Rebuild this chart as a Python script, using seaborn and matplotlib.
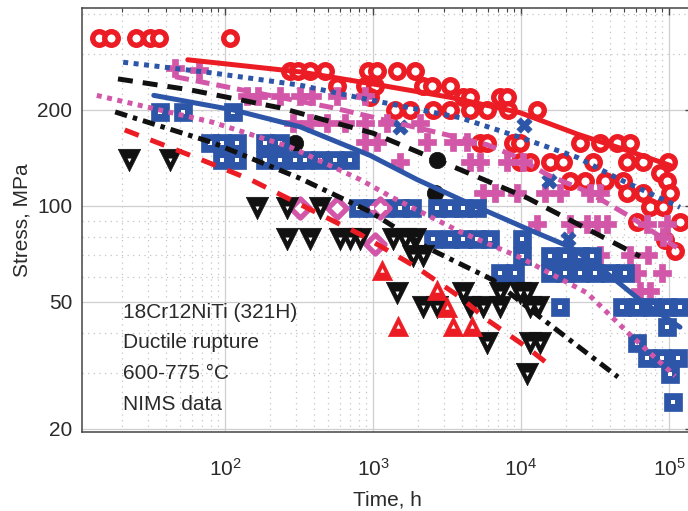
import numpy as np
import pandas as pd
import matplotlib
matplotlib.use("Agg")
import matplotlib.pyplot as plt
import matplotlib.ticker as mticker
import seaborn as sns

# ---------------- data (time in h, stress in MPa) ----------------
red_circle_t = [14, 17, 25, 31, 36, 108,
                275, 310, 375, 475, 925, 1065, 1450, 1920,
                570, 880, 1030, 2180, 2500, 3310,
                955, 4060, 4520, 7210, 8030,
                1410, 1780, 2540, 3310, 4520, 5890, 8170, 12800,
                5280, 5890, 8830, 9840, 25000, 34200, 44600, 54500,
                9840, 11500, 15700, 19200, 30600, 52000, 66700, 98400,
                86900,
                21400, 27000, 37000, 48900, 96900,
                52000, 66700, 101500,
                74400, 91000,
                60800, 118600,
                94000, 110000]
red_circle_s = [335, 335, 335, 335, 335, 335,
                265, 265, 265, 265, 265, 265, 265, 265,
                237, 237, 237, 237, 237, 237,
                220, 220, 220, 220, 220,
                200, 200, 200, 200, 200, 200, 200, 200,
                158, 158, 158, 158, 158, 158, 158, 158,
                137, 137, 137, 137, 137, 137, 137, 137,
                127,
                120, 120, 120, 120, 120,
                110, 110, 110,
                99, 99,
                89, 89,
                78, 72]
red_line_t = [56, 321, 1115, 3310, 9840, 23900, 50400, 101500]
red_line_s = [287, 263, 239, 219, 196, 168, 150, 134]

blue_dot_line_t = [20.5, 82, 321, 817, 1780, 3870, 9840, 23900, 46600, 118600]
blue_dot_line_s = [282, 261, 239, 218, 203, 189, 164, 142, 121, 99]
blue_x_t = [1520, 10500, 15400, 20800]
blue_x_s = [177, 179, 120, 78.5]

pink_dash_line_t = [46, 164, 537, 2840, 5890, 8830, 15200, 28400, 54500, 113000]
pink_dash_line_s = [254, 226, 203, 169, 155.5, 144, 125, 110.5, 92.6, 74]
pink_plus_t = [46, 67,
               141, 167, 235, 321, 387, 571, 883,
               288, 375, 489, 647, 883, 1245, 2080,
               883, 1065, 2320, 3470, 4320,
               1520, 4520, 5280, 8040, 10300,
               5540, 6670, 9400, 14500, 18300, 29300, 34200,
               12800, 21400, 27900, 32700, 38100, 71000, 96900,
               91000,
               34200, 54500, 72100,
               60800, 89700,
               63700, 74400]
pink_plus_s = [271, 267,
               221, 221, 221, 221, 221, 221, 221,
               182, 182, 182, 182, 182, 182, 182,
               159, 159, 159, 159, 159,
               137, 137, 137, 137, 137,
               110, 110, 110, 110, 110, 110, 110,
               88, 88, 88, 88, 88, 88, 88,
               80,
               70, 70, 70,
               61.5, 61.5,
               54, 54]

black_dash_line_t = [18.9, 58, 235, 1000, 3310, 11000, 25000, 63700]
black_dash_line_s = [250, 231, 203, 169, 134, 106, 87, 69.5]
black_dot_t = [297, 2700, 2620]
black_dot_s = [158, 139, 110]

pink_dot_line_t = [13.6, 82, 275, 817, 1365, 3870, 9840, 27900, 54500, 110000]
pink_dot_line_s = [222, 183, 153, 121, 106, 83, 69, 53.4, 39.5, 29.3]
pink_diamond_t = [321, 571, 1115, 1032]
pink_diamond_s = [98.6, 98.6, 98.6, 76]

blue_line_t = [33, 113, 321, 955, 1980, 4520, 11500, 21400, 34200, 63700, 118600]
blue_line_s = [222, 200, 177, 144, 121, 101.5, 84, 74.4, 64.1, 50.7, 41.7]
blue_square_t = [36.4, 52, 113,
                 79, 95, 120, 186, 235,
                 95, 120, 186, 235, 297, 347, 438, 553, 699,
                 792, 984, 1205, 1522, 1837, 2705, 3313, 4056, 5046,
                 2541, 3313, 4056, 5046, 6173, 10160,
                 10160, 15700, 19820, 25030, 30200,
                 7212, 9100, 15700, 19820, 25030, 31620, 39920, 50420,
                 18340, 48080, 60800, 76760, 96900, 118600,
                 96900, 60800, 71000, 89700, 115000, 101500, 106400]
blue_square_s = [197, 197, 197,
                 158, 158, 158, 158, 158,
                 139, 139, 139, 139, 139, 139, 139, 139, 139,
                 98.6, 98.6, 98.6, 98.6, 98.6, 98.6, 98.6, 98.6, 98.6,
                 78.5, 78.5, 78.5, 78.5, 78.5, 78.5,
                 69.5, 69.5, 69.5, 69.5, 69.5,
                 61.5, 61.5, 61.5, 61.5, 61.5, 61.5, 61.5, 61.5,
                 48.3, 48.3, 48.3, 48.3, 48.3, 48.3,
                 41.7, 37.3, 33.4, 33.4, 33.4, 29.7, 24.3]

black_dashdot_line_t = [18.1, 82, 321, 955, 2320, 6470, 13400, 45200]
black_dashdot_line_s = [197, 158, 122, 95.9, 74, 58.6, 44.9, 29.1]
black_tri_t = [22.4, 42.5,
               164, 262, 438,
               262, 375, 598, 699, 817, 1365, 1644, 1922,
               1862, 2178,
               1452, 4056, 7212, 9843, 10990,
               2178, 2705, 4522, 5536, 7212, 11500, 13030,
               5888, 11500, 13430,
               10990]
black_tri_s = [139, 139,
               98.6, 98.6, 98.6,
               78.5, 78.5, 78.5, 78.5, 78.5, 78.5, 78.5, 78.5,
               69.5, 69.5,
               53.5, 53.5, 53.5, 53.5, 53.5,
               48.3, 48.3, 48.3, 48.3, 48.3, 48.3, 48.3,
               37.3, 37.3, 37.3,
               29.7]

red_dash_line_t = [21, 63, 148, 358, 817, 1980, 3870, 5890, 11000, 15700]
red_dash_line_s = [173, 142, 121, 98.6, 81.5, 64.1, 51.8, 44, 36, 31.6]
red_tri_t = [1151, 2705, 3162, 1476, 3474, 4667]
red_tri_s = [63.2, 54.6, 48.1, 41.9, 41.9, 41.9]

y_ticks = [20, 50, 100, 200]
y_tick_labels = ["20", "50", "100", "200"]
x_ticks = [1e2, 1e3, 1e4, 1e5]
x_tick_labels = [r"$\mathregular{10^{2}}$", r"$\mathregular{10^{3}}$",
                 r"$\mathregular{10^{4}}$", r"$\mathregular{10^{5}}$"]
notes = ["18Cr12NiTi (321H)", "Ductile rupture", "600-775 \u00b0C", "NIMS data"]

# ---------------- style ----------------
sns.set_theme(style="white")
plt.rcParams["font.family"] = ["Liberation Sans", "DejaVu Sans"]

RED = "#ec1c24"
BLUE = "#2d55a8"
PINK = "#d257a8"
BLACK = "#111111"
TXT = "#2a2a2a"

fig = plt.figure(figsize=(6.88, 5.11), dpi=100)
ax = fig.add_axes([82 / 688, 79 / 511, 610 / 688, 424 / 511])
ax.set_xscale("log")
ax.set_yscale("log")
ax.set_xlim(10.8, 1.43e5)
ax.set_ylim(19.57, 417)

ax.set_axisbelow(True)
ax.grid(which="major", color="#cfcfcf", lw=0.9, ls="-")
ax.grid(which="minor", color="#c4c4c4", lw=0.9, ls=(0, (1, 3.5)))


def scat(tv, sv, **kw):
    sns.scatterplot(x=tv, y=sv, ax=ax, legend=False, **kw)


def line(tv, sv, **kw):
    sns.lineplot(x=tv, y=sv, ax=ax, sort=False, estimator=None, legend=False, **kw)


# markers
scat(red_circle_t, red_circle_s, marker="o", s=95, color="white", edgecolor=RED, linewidth=3.9, zorder=3)
scat(pink_plus_t, pink_plus_s, marker="P", s=165, color=PINK, edgecolor=PINK, linewidth=0.5, zorder=3)
scat(blue_x_t, blue_x_s, marker="X", s=120, color=BLUE, edgecolor=BLUE, linewidth=0.5, zorder=3)
scat(black_dot_t, black_dot_s, marker="o", s=140, color=BLACK, edgecolor=BLACK, linewidth=0.5, zorder=3)
scat(blue_square_t, blue_square_s, marker="s", s=165, color=BLUE, edgecolor=BLUE, linewidth=0.5, zorder=3)
scat(blue_square_t, blue_square_s, marker="s", s=6, color="white", edgecolor="white", linewidth=0, zorder=3.1)
scat(pink_diamond_t, pink_diamond_s, marker="D", s=95, color="white", edgecolor=PINK, linewidth=3.8, zorder=3)
scat(black_tri_t, black_tri_s, marker="v", s=260, color=BLACK, edgecolor=BLACK, linewidth=0.5, zorder=3)
scat(black_tri_t, black_tri_s, marker="v", s=8, color="white", edgecolor="white", linewidth=0, zorder=3.1)
scat(red_tri_t, red_tri_s, marker="^", s=210, color=RED, edgecolor=RED, linewidth=0.5, zorder=3)
scat(red_tri_t, red_tri_s, marker="^", s=10, color="white", edgecolor="white", linewidth=0, zorder=3.1)

# fitted lines
LW = 3.6
line(red_line_t, red_line_s, color=RED, lw=LW, linestyle="-", zorder=4)
line(blue_dot_line_t, blue_dot_line_s, color=BLUE, lw=LW, linestyle=(0, (1, 1.1)), zorder=4)
line(pink_dash_line_t, pink_dash_line_s, color=PINK, lw=LW, linestyle=(0, (2.8, 1.4)), zorder=4)
line(black_dash_line_t, black_dash_line_s, color=BLACK, lw=LW, linestyle=(0, (3.0, 2.0)), zorder=4)
line(pink_dot_line_t, pink_dot_line_s, color=PINK, lw=LW, linestyle=(0, (1, 1.1)), zorder=4)
line(blue_line_t, blue_line_s, color=BLUE, lw=LW, linestyle="-", zorder=4)
line(black_dashdot_line_t, black_dashdot_line_s, color=BLACK, lw=LW, linestyle=(0, (2.5, 1.2, 0.9, 1.2)), zorder=4)
line(red_dash_line_t, red_dash_line_s, color=RED, lw=LW, linestyle=(0, (3.0, 2.5)), zorder=4)

# ticks
ax.yaxis.set_major_locator(mticker.FixedLocator(y_ticks))
ax.yaxis.set_major_formatter(mticker.FixedFormatter(y_tick_labels))
ax.yaxis.set_minor_locator(mticker.LogLocator(base=10, subs=np.arange(2, 10)))
ax.yaxis.set_minor_formatter(mticker.NullFormatter())
ax.xaxis.set_major_locator(mticker.FixedLocator(x_ticks))
ax.xaxis.set_major_formatter(mticker.FixedFormatter(x_tick_labels))
ax.xaxis.set_minor_locator(mticker.LogLocator(base=10, subs=np.arange(2, 10)))
ax.xaxis.set_minor_formatter(mticker.NullFormatter())

ax.tick_params(which="both", direction="in", top=True, right=True, colors="#444444",
               labelcolor=TXT, labelsize=15)
ax.tick_params(which="major", length=5, width=1)
ax.tick_params(which="minor", length=3, width=0.8)
ax.tick_params(axis="x", which="major", pad=19)
ax.tick_params(axis="y", which="major", pad=7)

for sp in ax.spines.values():
    sp.set_color("#444444")
    sp.set_linewidth(1.1)

ax.set_xlabel("Time, h", fontsize=15, color=TXT, labelpad=7)
ax.set_ylabel("Stress, MPa", fontsize=15, color=TXT, labelpad=4)

for txt, yy in zip(notes, [0.281, 0.210, 0.139, 0.064]):
    ax.text(0.067, yy, txt, transform=ax.transAxes, fontsize=15, color=TXT,
            ha="left", va="center", zorder=6)

fig.savefig("out.png", dpi=100)
